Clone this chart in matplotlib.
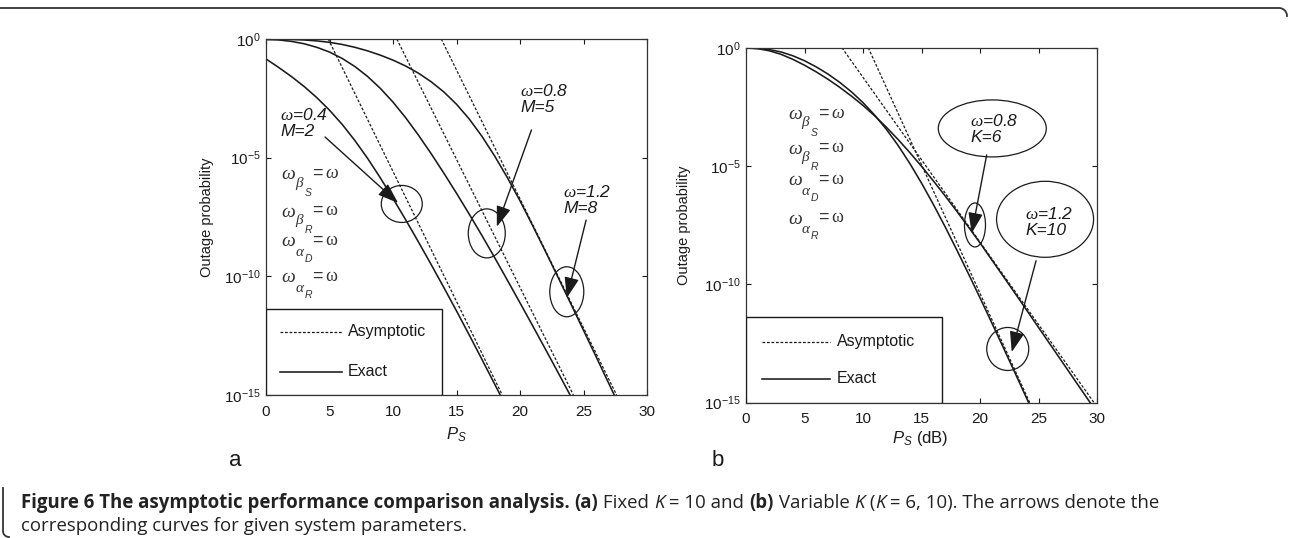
import matplotlib.pyplot as plt
import numpy as np
from matplotlib.patches import Ellipse, Rectangle
from matplotlib.lines import Line2D
from matplotlib.transforms import ScaledTranslation

plt.rcParams['font.family'] = 'Liberation Sans'
plt.rcParams['mathtext.fontset'] = 'custom'
plt.rcParams['mathtext.rm'] = 'Liberation Sans'
plt.rcParams['mathtext.it'] = 'Liberation Serif:italic'
plt.rcParams['mathtext.sf'] = 'Liberation Sans:italic'
plt.rcParams['mathtext.bf'] = 'Liberation Serif'

INK = '#1a1a1a'

# ---- panel a: fixed K = 10 (log10 of outage probability) ----
ps_a = [0, 1, 2, 3, 4, 5, 6, 7, 8, 9, 10, 11, 12, 13, 14, 15, 16, 17, 18, 19]
exact_a = [-0.84, -1.2, -1.58, -2.0, -2.47, -3.0, -3.6, -4.28, -5.03, -5.85,
           -6.72, -7.62, -8.55, -9.5, -10.47, -11.46, -12.47, -13.5, -14.54, -15.59]
ps_b = [0, 1, 2, 3, 4, 5, 6, 7, 8, 9, 10, 11, 12, 13, 14, 15, 16, 17, 18, 19,
        20, 21, 22, 23, 24, 25]
exact_b = [-0.02, -0.04, -0.10, -0.20, -0.35, -0.55, -0.82, -1.16, -1.58, -2.08,
           -2.66, -3.32, -4.05, -4.83, -5.65, -6.5, -7.38, -8.28, -9.21, -10.16,
           -11.12, -12.09, -13.07, -14.06, -15.06, -16.06]
ps_c = [0, 1, 2, 3, 4, 5, 6, 7, 8, 9, 10, 11, 12, 13, 14, 15, 16, 17, 18, 19,
        20, 21, 22, 23, 24, 25, 26, 27, 28]
exact_c = [-0.01, -0.01, -0.02, -0.04, -0.08, -0.14, -0.23, -0.35, -0.5, -0.68,
           -0.89, -1.14, -1.44, -1.8, -2.23, -2.75, -3.37, -4.1, -4.93, -5.84,
           -6.82, -7.87, -8.95, -10.05, -11.16, -12.28, -13.4, -14.53, -15.66]
asym_a_ps, asym_a = [4.9, 18.6], [0, -15]
asym_b_ps, asym_b = [10.3, 24.2], [0, -15]
asym_c_ps, asym_c = [13.8, 27.6], [0, -15]

# ---- panel b: variable K ----
ps_r = [0, 1, 2, 3, 4, 5, 6, 7, 8, 9, 10, 11, 12, 13, 14, 15, 16, 17, 18, 19,
        20, 21, 22, 23, 24, 25, 26, 27, 28, 29, 30]
exact_k6 = [-0.01, -0.04, -0.13, -0.28, -0.49, -0.74, -1.02, -1.33, -1.67, -2.04,
            -2.44, -2.88, -3.36, -3.88, -4.43, -5.01, -5.62, -6.25, -6.9, -7.57,
            -8.25, -8.96, -9.67, -10.38, -11.1, -11.82, -12.54, -13.26, -13.98,
            -14.7, -15.42]
exact_k10 = [-0.01, -0.03, -0.08, -0.18, -0.34, -0.55, -0.81, -1.11, -1.46, -1.86,
             -2.32, -2.85, -3.45, -4.13, -4.89, -5.72, -6.61, -7.55, -8.53, -9.54,
             -10.57, -11.62, -12.68, -13.75, -14.83, -15.91]
asym_k6_ps, asym_k6 = [8.2, 29.75], [0, -15]
asym_k10_ps, asym_k10 = [10.45, 24.25], [0, -15]

xticks = [0, 5, 10, 15, 20, 25, 30]
yticks = [1e0, 1e-5, 1e-10, 1e-15]

DASH = dict(color=INK, lw=0.9, ls=(0, (2.2, 1.4)))
SOLID = dict(color=INK, lw=1.15)

fig = plt.figure(figsize=(12.9, 5.38), dpi=100)
axl = fig.add_axes([0.2062, 0.2658, 0.2954, 0.6617])
axr = fig.add_axes([0.5783, 0.2515, 0.2721, 0.6598])


def setup(ax):
    ax.set_yscale('log')
    ax.set_xlim(0, 30)
    ax.set_ylim(1e-15, 1)
    ax.set_xticks(xticks)
    ax.set_yticks(yticks)
    ax.yaxis.set_minor_locator(plt.NullLocator())
    ax.tick_params(direction='in', top=True, right=True, length=3.5, width=0.8,
                   labelsize=11, colors=INK)
    ax.tick_params(axis='x', pad=7)
    ax.tick_params(axis='y', pad=4)
    for s in ax.spines.values():
        s.set_linewidth(0.9)
        s.set_color('#333333')


def curve(ax, ps, lg, style):
    ax.plot(ps, 10.0 ** np.array(lg), **style)


def ellipse(ax, p, lg, w, h):
    tr = fig.dpi_scale_trans + ScaledTranslation(p, 10.0 ** lg, ax.transData)
    ax.add_patch(Ellipse((0, 0), w / 100, h / 100, transform=tr, fill=False,
                         ec=INK, lw=0.9, clip_on=False))


def arrow(ax, p0, l0, p1, l1):
    ax.annotate('', xy=(p1, 10.0 ** l1), xytext=(p0, 10.0 ** l0),
                arrowprops=dict(arrowstyle='-|>,head_length=0.9,head_width=0.32',
                                mutation_scale=14, color=INK, lw=1.0,
                                shrinkA=0, shrinkB=0))


def note(ax, p, lg, txt, ha='left'):
    ax.text(p, 10.0 ** lg, txt, fontsize=12.5, style='italic', ha=ha, va='center',
            color=INK, linespacing=1.1)


def omega_row(ax, p, lg, greek, sub, tail, alpha=False):
    base = (p, 10.0 ** lg)
    kw = dict(xycoords='data', textcoords='offset points', va='center',
              ha='left', color='#333333')
    ax.annotate(r'$\omega$', xy=base, xytext=(0, 0), fontsize=14, **kw)
    ax.annotate(greek, xy=base, xytext=(9.8, -7.0 if alpha else -5.8),
                fontsize=11, **kw)
    ax.annotate(sub, xy=base, xytext=(16.8, -12.0 if alpha else -12.8),
                fontsize=7.5, style='italic', **kw)
    ax.annotate(tail, xy=base, xytext=(20.6, 1.3), fontsize=13, **kw)


def omega_block(ax, p, rows):
    omega_row(ax, p, rows[0], r'$\beta$', 'S', r'$=\omega$')
    omega_row(ax, p, rows[1], r'$\beta$', 'R', r'$=\mathbf{\omega}$')
    omega_row(ax, p, rows[2], r'$\alpha$', 'D', r'$=\mathbf{\omega}$', alpha=True)
    omega_row(ax, p, rows[3], r'$\alpha$', 'R', r'$=\mathbf{\omega}$', alpha=True)


def legend_box(ax, w, h, x0, x1, xt, ya, ye):
    ax.add_patch(Rectangle((0, 0), w, h, transform=ax.transAxes, fc='white',
                           ec=INK, lw=1.0, zorder=5))
    ax.add_line(Line2D([x0, x1], [ya, ya], transform=ax.transAxes, zorder=6, **DASH))
    ax.add_line(Line2D([x0, x1], [ye, ye], transform=ax.transAxes, zorder=6, **SOLID))
    ax.text(xt, ya, 'Asymptotic', transform=ax.transAxes, fontsize=11.5,
            va='center', color=INK, zorder=6)
    ax.text(xt, ye, 'Exact', transform=ax.transAxes, fontsize=11.5,
            va='center', color=INK, zorder=6)


# ---------- panel a ----------
setup(axl)
curve(axl, ps_a, exact_a, SOLID)
curve(axl, ps_b, exact_b, SOLID)
curve(axl, ps_c, exact_c, SOLID)
curve(axl, asym_a_ps, asym_a, DASH)
curve(axl, asym_b_ps, asym_b, DASH)
curve(axl, asym_c_ps, asym_c, DASH)

note(axl, 1.1, -3.54, '$\\omega$=0.4\nM=2')
arrow(axl, 4.65, -4.13, 10.4, -6.91)
ellipse(axl, 10.69, -6.95, 41, 37)
note(axl, 20.0, -2.53, '$\\omega$=0.8\nM=5')
arrow(axl, 20.9, -3.83, 18.17, -7.91)
ellipse(axl, 17.38, -8.19, 37, 49)
note(axl, 23.4, -6.78, '$\\omega$=1.2\nM=8')
arrow(axl, 25.2, -7.63, 23.68, -10.91)
ellipse(axl, 23.68, -10.65, 34, 50)

omega_block(axl, 1.2, [-5.73, -7.29, -8.55, -10.07])
legend_box(axl, 0.462, 0.2416, 0.037, 0.20, 0.215, 0.177, 0.065)

axl.set_xlabel(r'$\mathsf{P_S}$', fontsize=12, color=INK)
axl.xaxis.set_label_coords(0.5, -0.085)
axl.set_ylabel('Outage probability', fontsize=10.5, color=INK)
axl.yaxis.set_label_coords(-0.137, 0.5)

# ---------- panel b ----------
setup(axr)
curve(axr, ps_r, exact_k6, SOLID)
curve(axr, ps_r[:len(exact_k10)], exact_k10, SOLID)
curve(axr, asym_k6_ps, asym_k6, DASH)
curve(axr, asym_k10_ps, asym_k10, DASH)

ellipse(axr, 21.05, -3.41, 108, 57)
note(axr, 19.15, -3.43, '$\\omega$=0.8\nK=6')
arrow(axr, 20.57, -4.53, 19.29, -7.84)
ellipse(axr, 19.57, -7.49, 21, 44)
ellipse(axr, 25.56, -7.25, 97, 76)
note(axr, 23.85, -7.36, '$\\omega$=1.2\nK=10')
arrow(axr, 24.79, -9.0, 22.71, -12.86)
ellipse(axr, 22.37, -12.73, 42, 43)

omega_block(axr, 3.55, [-2.84, -4.28, -5.63, -7.24])
legend_box(axr, 0.558, 0.241, 0.046, 0.239, 0.259, 0.171, 0.067)

axr.set_xlabel(r'$\mathsf{P_S}$ (dB)', fontsize=12, color=INK)
axr.xaxis.set_label_coords(0.496, -0.075)
axr.set_ylabel('Outage probability', fontsize=10.5, color=INK)
axr.yaxis.set_label_coords(-0.157, 0.5)

fig.text(235 / 1290, 1 - 460 / 538, 'a', fontsize=16, ha='center', va='center', color=INK)
fig.text(718 / 1290, 1 - 460 / 538, 'b', fontsize=16, ha='center', va='center', color=INK)

# ---------- frame ----------
W, H = 1290.0, 538.0
t = np.linspace(0, np.pi / 2, 12)
top_x = list(np.array([0, 1279]) / W) + list((1279 + 8 * np.sin(t)) / W)
top_y = [1 - 8 / H, 1 - 8 / H] + list(1 - (16 - 8 * np.cos(t)) / H)
fig.add_artist(Line2D(top_x, top_y, transform=fig.transFigure, color='#333333', lw=1.3))
left_x = list((3 + 6 * (1 - np.cos(t))) / W)
left_y = list((1 + 6 * (1 - np.sin(t))) / H)
fig.add_artist(Line2D([3 / W] + left_x, [1 - 488 / H] + left_y,
                      transform=fig.transFigure, color='#333333', lw=1.3))

# ---------- caption ----------
cap_font = 'Open Sans'
cap_size = 13.4
line1 = [("Figure 6 The asymptotic performance comparison analysis. ", 'bold', 'normal'),
         ("(a)", 'bold', 'normal'), (" Fixed ", 'normal', 'normal'),
         ("K", 'normal', 'italic'), (" = 10 and ", 'normal', 'normal'),
         ("(b)", 'bold', 'normal'), (" Variable ", 'normal', 'normal'),
         ("K", 'normal', 'italic'), (" (", 'normal', 'normal'),
         ("K", 'normal', 'italic'), (" = 6, 10). The arrows denote the", 'normal', 'normal')]
line2 = [("corresponding curves for given system parameters.", 'normal', 'normal')]

renderer = fig.canvas.get_renderer()


def caption_line(parts, y, size):
    x = 21
    for txt, wt, st in parts:
        tx = fig.text(x / W, y, txt, fontsize=size, fontweight=wt, style=st,
                      family=cap_font, va='center', ha='left', color='#222222')
        bb = tx.get_window_extent(renderer)
        x += bb.width


caption_line(line1, 1 - 503 / H, cap_size)
caption_line(line2, 1 - 526 / H, cap_size)

fig.savefig('out.png', dpi=100)
